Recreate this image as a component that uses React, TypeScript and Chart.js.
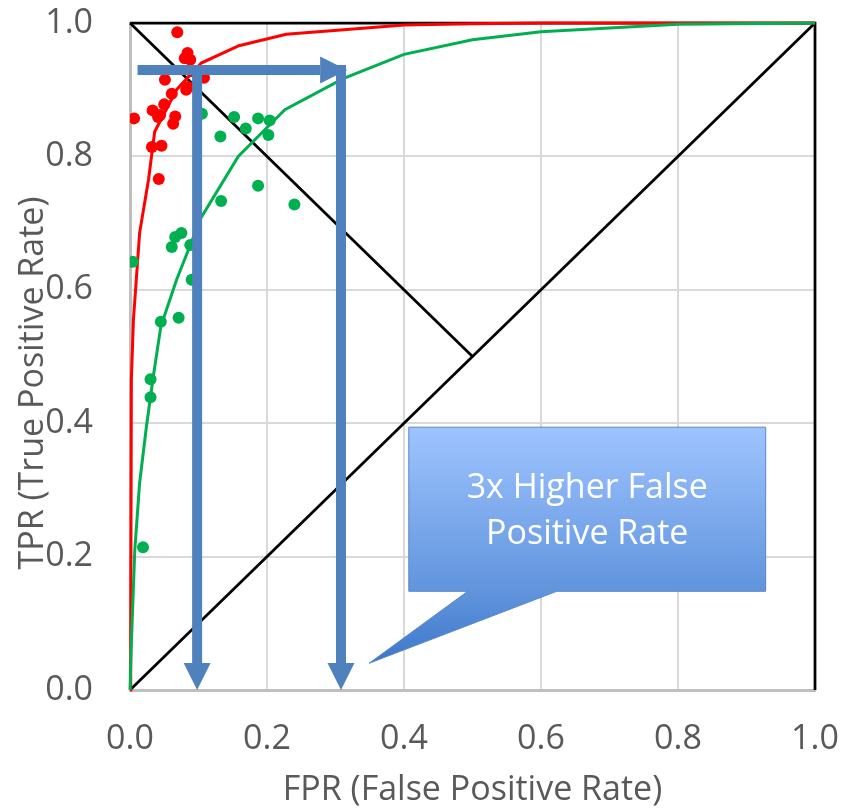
import React, { useEffect, useRef } from "react";
import { Chart, registerables } from "chart.js";

Chart.register(...registerables);

const FONT = "'Open Sans', sans-serif";
const TEXT_COLOR = "#595959";

// ---- observed points (FPR, TPR) ----
const redFPR = [0.069, 0.084, 0.080, 0.088, 0.108, 0.051, 0.082, 0.085, 0.061, 0.050, 0.033, 0.044, 0.041, 0.066, 0.063, 0.006, 0.032, 0.046, 0.042, 0.090];
const redTPR = [0.986, 0.955, 0.947, 0.945, 0.918, 0.915, 0.900, 0.904, 0.894, 0.878, 0.869, 0.862, 0.859, 0.860, 0.849, 0.857, 0.814, 0.816, 0.766, 0.928];

const greenFPR = [0.105, 0.152, 0.187, 0.204, 0.169, 0.132, 0.202, 0.187, 0.133, 0.240, 0.066, 0.075, 0.061, 0.088, 0.090, 0.045, 0.071, 0.030, 0.030, 0.019, 0.004];
const greenTPR = [0.864, 0.859, 0.857, 0.854, 0.842, 0.830, 0.832, 0.756, 0.733, 0.728, 0.679, 0.685, 0.664, 0.667, 0.615, 0.552, 0.558, 0.466, 0.439, 0.214, 0.642];

// ---- fitted ROC curves ----
const redCurveFPR = [0, 0.001, 0.002, 0.005, 0.014, 0.027, 0.036, 0.068, 0.104, 0.159, 0.228, 0.312, 0.40, 0.50, 0.60, 1.0];
const redCurveTPR = [0, 0.07, 0.465, 0.555, 0.685, 0.765, 0.837, 0.90, 0.94, 0.966, 0.983, 0.990, 0.997, 0.999, 1.0, 1.0];

const greenCurveFPR = [0, 0.002, 0.007, 0.014, 0.024, 0.034, 0.045, 0.068, 0.09, 0.102, 0.158, 0.226, 0.312, 0.40, 0.50, 0.60, 0.80, 1.0];
const greenCurveTPR = [0, 0.07, 0.21, 0.31, 0.395, 0.47, 0.545, 0.615, 0.672, 0.705, 0.80, 0.87, 0.917, 0.953, 0.975, 0.987, 0.998, 1.0];

// ---- reference lines ----
const diagFPR = [0, 1];
const diagTPR = [0, 1];
const antiDiagFPR = [0, 0.5];
const antiDiagTPR = [1, 0.5];
const frameFPR = [0, 1, 1];
const frameTPR = [1, 1, 0];

// ---- axis ticks ----
const tickValues = [0, 0.2, 0.4, 0.6, 0.8, 1.0];
const xTitle = "FPR (False Positive Rate)";
const yTitle = "TPR (True Positive Rate)";

// ---- annotations (data coordinates) ----
const arrowLevelTPR = 0.9295;      // horizontal arrow level
const arrowStartFPR = 0.011;       // horizontal arrow start
const arrowEndFPR = 0.317;         // horizontal arrow tip
const dropFPR = [0.098, 0.308];    // vertical arrows
const dropTopTPR = 0.937;
const dropEndTPR = 0;
const calloutBoxFPR = [0.407, 0.928];
const calloutBoxTPR = [0.148, 0.394];
const calloutBaseFPR = [0.493, 0.623];
const calloutTip = [0.349, 0.040];
const calloutLines = ["3x Higher False", "Positive Rate"];

const pts = (xs: number[], ys: number[]) => xs.map((x, i) => ({ x, y: ys[i] }));

const annotationPlugin = {
  id: "rocAnnotations",
  afterDatasetsDraw(chart: any) {
    const { ctx } = chart;
    const xs = chart.scales.x;
    const ys = chart.scales.y;
    const px = (v: number) => xs.getPixelForValue(v);
    const py = (v: number) => ys.getPixelForValue(v);
    const blue = "#4F81BD";
    const shaft = 10;
    const headW = 27;
    const headL = 27;
    ctx.save();
    ctx.fillStyle = blue;

    // horizontal arrow
    const hy = py(arrowLevelTPR);
    const hx0 = px(arrowStartFPR);
    const hx1 = px(arrowEndFPR);
    ctx.fillRect(hx0, hy - shaft / 2, hx1 - headL - hx0, shaft);
    ctx.beginPath();
    ctx.moveTo(hx1 - headL, hy - headW / 2);
    ctx.lineTo(hx1, hy);
    ctx.lineTo(hx1 - headL, hy + headW / 2);
    ctx.closePath();
    ctx.fill();

    // vertical arrows
    dropFPR.forEach((f) => {
      const vx = px(f);
      const vy0 = py(dropTopTPR);
      const vy1 = py(dropEndTPR);
      ctx.fillRect(vx - shaft / 2, vy0, shaft, vy1 - headL - vy0);
      ctx.beginPath();
      ctx.moveTo(vx - headW / 2, vy1 - headL);
      ctx.lineTo(vx, vy1);
      ctx.lineTo(vx + headW / 2, vy1 - headL);
      ctx.closePath();
      ctx.fill();
    });

    // callout
    const L = px(calloutBoxFPR[0]);
    const R = px(calloutBoxFPR[1]);
    const T = py(calloutBoxTPR[1]);
    const B = py(calloutBoxTPR[0]);
    const bL = px(calloutBaseFPR[0]);
    const bR = px(calloutBaseFPR[1]);
    const tx = px(calloutTip[0]);
    const ty = py(calloutTip[1]);
    const grad = ctx.createLinearGradient(0, T, 0, ty);
    grad.addColorStop(0, "#9EC4FF");
    grad.addColorStop((B - T) / (ty - T), "#6194DD");
    grad.addColorStop(1, "#3C78C8");
    ctx.beginPath();
    ctx.moveTo(L, T);
    ctx.lineTo(R, T);
    ctx.lineTo(R, B);
    ctx.lineTo(bR, B);
    ctx.lineTo(tx, ty);
    ctx.lineTo(bL, B);
    ctx.lineTo(L, B);
    ctx.closePath();
    ctx.fillStyle = grad;
    ctx.fill();
    ctx.strokeStyle = "#5A87C6";
    ctx.lineWidth = 1;
    ctx.stroke();

    ctx.fillStyle = "#FFFFFF";
    ctx.font = `34px ${FONT}`;
    ctx.textAlign = "center";
    ctx.textBaseline = "middle";
    const cx = (L + R) / 2;
    const cy = (T + B) / 2 + 2;
    const lh = 46;
    calloutLines.forEach((line, i) => {
      ctx.fillText(line, cx, cy + (i - (calloutLines.length - 1) / 2) * lh);
    });
    ctx.restore();
  },
};

export default function App() {
  const canvasRef = useRef<HTMLCanvasElement | null>(null);

  useEffect(() => {
    const canvas = canvasRef.current;
    if (!canvas) return;
    const lineBase = { showLine: true, pointRadius: 0, pointHoverRadius: 0, fill: false, clip: false as any, tension: 0 };
    const chart = new Chart(canvas, {
      type: "scatter",
      data: {
        datasets: [
          {
            label: "Red observations",
            data: pts(redFPR, redTPR),
            backgroundColor: "#FF0000",
            borderWidth: 0,
            pointRadius: 6,
          },
          {
            label: "Green observations",
            data: pts(greenFPR, greenTPR),
            backgroundColor: "#00B050",
            borderWidth: 0,
            pointRadius: 6,
          },
          { ...lineBase, label: "Green ROC", data: pts(greenCurveFPR, greenCurveTPR), borderColor: "#00B050", borderWidth: 3 },
          { ...lineBase, label: "Red ROC", data: pts(redCurveFPR, redCurveTPR), borderColor: "#FF0000", borderWidth: 3 },
          { ...lineBase, label: "Diagonal", data: pts(diagFPR, diagTPR), borderColor: "#000000", borderWidth: 2.75 },
          { ...lineBase, label: "Anti-diagonal", data: pts(antiDiagFPR, antiDiagTPR), borderColor: "#000000", borderWidth: 2.75 },
          { ...lineBase, label: "Perfect", data: pts(frameFPR, frameTPR), borderColor: "#000000", borderWidth: 2.75 },
        ] as any,
      },
      options: {
        animation: false,
        responsive: true,
        maintainAspectRatio: false,
        layout: { padding: { top: 23, right: 27, left: 0, bottom: 0 } },
        plugins: { legend: { display: false }, tooltip: { enabled: false } },
        events: [],
        scales: {
          x: {
            type: "linear",
            min: 0,
            max: 1,
            afterBuildTicks: (s: any) => {
              s.ticks = tickValues.map((v) => ({ value: v }));
            },
            afterFit: (s: any) => {
              s.height = 121;
              s.paddingLeft = 0;
              s.paddingRight = 0;
            },
            ticks: {
              callback: (v: any) => Number(v).toFixed(1),
              color: TEXT_COLOR,
              font: { family: FONT, size: 34 },
              padding: 29,
              maxRotation: 0,
            },
            grid: { color: "#D9D9D9", lineWidth: 2, drawTicks: false },
            border: { color: "#BFBFBF", width: 3 },
            title: {
              display: true,
              text: xTitle,
              color: TEXT_COLOR,
              font: { family: FONT, size: 34 },
              padding: { top: 0, bottom: 0 },
            },
          },
          y: {
            type: "linear",
            min: 0,
            max: 1,
            afterBuildTicks: (s: any) => {
              s.ticks = tickValues.map((v) => ({ value: v }));
            },
            afterFit: (s: any) => {
              s.width = 130;
              s.paddingTop = 0;
              s.paddingBottom = 0;
            },
            ticks: {
              callback: (v: any) => Number(v).toFixed(1),
              color: TEXT_COLOR,
              font: { family: FONT, size: 34 },
              padding: 37,
            },
            grid: { color: "#D9D9D9", lineWidth: 2, drawTicks: false },
            border: { color: "#BFBFBF", width: 3 },
            title: {
              display: true,
              text: yTitle + "\u00A0\u00A0\u00A0\u00A0\u00A0\u00A0",
              color: TEXT_COLOR,
              font: { family: FONT, size: 34 },
              padding: { top: 13, bottom: 0 },
            },
          },
        },
      },
      plugins: [annotationPlugin],
    } as any);
    return () => chart.destroy();
  }, []);

  return (
    <div style={{ position: "absolute", left: 0, top: 0, width: 842, height: 811, background: "#FFFFFF" }}>
      <canvas ref={canvasRef} />
    </div>
  );
}
